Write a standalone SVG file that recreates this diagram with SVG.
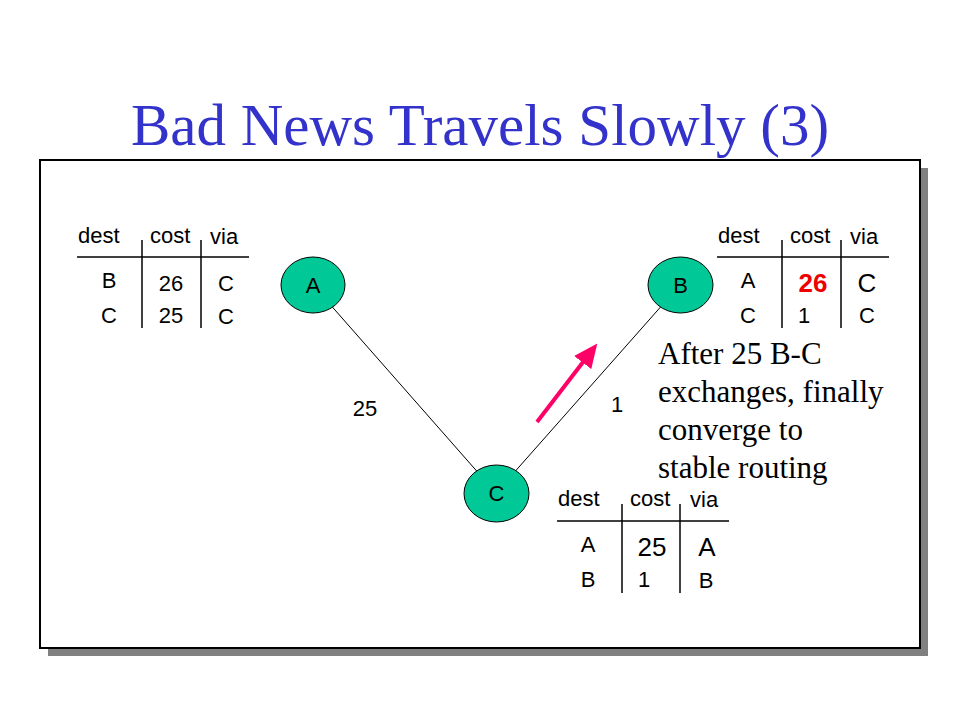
<svg xmlns="http://www.w3.org/2000/svg" width="960" height="720" viewBox="0 0 960 720">
<style>
.t{font-family:"Liberation Sans",Arial,sans-serif;font-size:22px;fill:#000}
.c{text-anchor:middle}
.big{font-size:26px}
.rule{stroke:#000;stroke-width:1.5;fill:none}
.node ellipse{fill:#00C896;stroke:#000;stroke-width:1}
.node text{font-family:"Liberation Sans",Arial,sans-serif;font-size:22px;text-anchor:middle;fill:#000}
.edge{stroke:#000;stroke-width:1;fill:none}
.note{font-family:"Liberation Serif","Times New Roman",serif;font-size:31px;fill:#000}
</style>
<defs>
<marker id="ah" markerWidth="6" markerHeight="6" refX="3" refY="3" orient="auto" markerUnits="strokeWidth">
<path d="M0,0.3 L6,3 L0,5.7 z" fill="#FF0066"/>
</marker>
</defs>
<rect width="960" height="720" fill="#fff"/>
<text x="480" y="145" font-family="'Liberation Serif','Times New Roman',serif" font-size="59" fill="#3333CC" text-anchor="middle">Bad News Travels Slowly (3)</text>
<rect x="48" y="168" width="880" height="488" fill="#808080"/>
<rect x="40" y="160" width="880" height="488" fill="#fff" stroke="#000" stroke-width="2"/>

<g id="connectors">
<line class="edge" x1="313" y1="285" x2="496" y2="493"/>
<line class="edge" x1="680" y1="285" x2="496" y2="493"/>
<text class="t c" x="365" y="416">25</text>
<text class="t c" x="617" y="412">1</text>
<line x1="537" y1="422" x2="590" y2="353" stroke="#FF0066" stroke-width="4" marker-end="url(#ah)"/>
</g>

<g id="node-A" class="node"><ellipse cx="313" cy="285" rx="32" ry="28"/><text x="313" y="293">A</text></g>
<g id="node-B" class="node"><ellipse cx="680.5" cy="285" rx="32.5" ry="28"/><text x="680.5" y="293">B</text></g>
<g id="node-C" class="node"><ellipse cx="496.5" cy="493.5" rx="32.5" ry="28.5"/><text x="496.5" y="501">C</text></g>

<g id="table-A">
<text class="t" x="78" y="243">dest</text>
<text class="t" x="150" y="243">cost</text>
<text class="t" x="210" y="244">via</text>
<line class="rule" x1="77" y1="257" x2="249" y2="257"/>
<line class="rule" x1="142" y1="240" x2="142" y2="328"/>
<line class="rule" x1="201" y1="240" x2="201" y2="328"/>
<text class="t c" x="109" y="288">B</text>
<text class="t c" x="171" y="291">26</text>
<text class="t c" x="226" y="291">C</text>
<text class="t c" x="109" y="323">C</text>
<text class="t c" x="171" y="323">25</text>
<text class="t c" x="226" y="324">C</text>
</g>

<g id="table-B">
<text class="t" x="718" y="243">dest</text>
<text class="t" x="790" y="243">cost</text>
<text class="t" x="850" y="244">via</text>
<line class="rule" x1="717" y1="257" x2="889" y2="257"/>
<line class="rule" x1="782" y1="240" x2="782" y2="328"/>
<line class="rule" x1="841" y1="240" x2="841" y2="328"/>
<text class="t c" x="748" y="288">A</text>
<text class="t c big" x="813" y="292" style="font-weight:bold;fill:#EE0000">26</text>
<text class="t c big" x="867" y="292">C</text>
<text class="t c" x="748" y="323">C</text>
<text class="t c" x="804" y="323">1</text>
<text class="t c" x="867" y="323">C</text>
</g>

<g id="table-C">
<text class="t" x="558" y="506">dest</text>
<text class="t" x="630" y="506">cost</text>
<text class="t" x="690" y="507">via</text>
<line class="rule" x1="557" y1="521" x2="729" y2="521"/>
<line class="rule" x1="622" y1="504" x2="622" y2="593"/>
<line class="rule" x1="680" y1="504" x2="680" y2="593"/>
<text class="t c" x="588" y="552">A</text>
<text class="t c big" x="652" y="556">25</text>
<text class="t c big" x="707" y="556">A</text>
<text class="t c" x="588" y="587">B</text>
<text class="t c" x="644" y="587">1</text>
<text class="t c" x="706" y="588">B</text>
</g>

<g id="note">
<text class="note" x="658" y="364">After 25 B-C</text>
<text class="note" x="658" y="402">exchanges, finally</text>
<text class="note" x="658" y="440">converge to</text>
<text class="note" x="658" y="478">stable routing</text>
</g>
</svg>
